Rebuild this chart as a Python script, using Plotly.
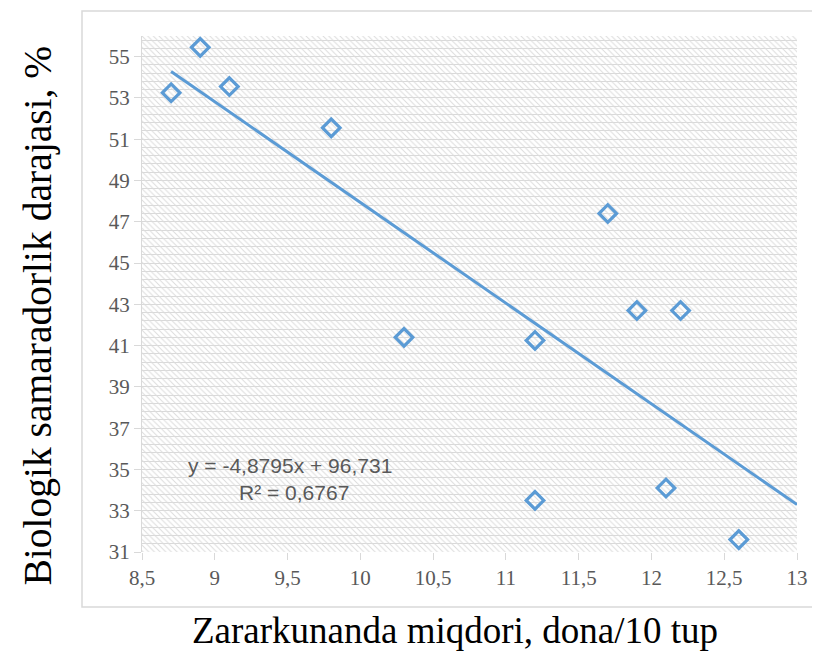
import plotly.graph_objects as go

# ---- data ----
pest_count = [8.7, 8.9, 9.1, 9.8, 10.3, 11.2, 11.2, 11.7, 11.9, 12.2, 12.1, 12.6]
bio_efficiency = [53.25, 55.45, 53.55, 51.55, 41.4, 41.25, 33.5, 47.4, 42.7, 42.7, 34.1, 31.6]
trend_slope = -4.8795
trend_intercept = 96.731
r_squared = 0.6767
x_range = [8.5, 13]
y_range = [31, 56]

eq_text = "y = -4,8795x + 96,731"
r2_text = "R² = 0,6767"
x_title = "Zararkunanda miqdori, dona/10 tup"
y_title = "Biologik samaradorlik darajasi, %"

blue = "#5b9bd5"
grey_txt = "#595959"
grid_col = "#d9d9d9"
serif = "Liberation Serif, Times New Roman, serif"

fig = go.Figure()

# patterned plot-area background (decoration spanning the axis ranges)
fig.add_trace(go.Scatter(
    x=[x_range[0], x_range[1], x_range[1], x_range[0], x_range[0]],
    y=[y_range[0], y_range[0], y_range[1], y_range[1], y_range[0]],
    mode="none", fill="toself", fillcolor="rgba(0,0,0,0)",
    fillpattern=dict(shape="\\", fgcolor="#dcdcdc", bgcolor="rgba(0,0,0,0)",
                     size=4, solidity=0.25, fillmode="replace"),
    hoverinfo="skip", showlegend=False))

# trendline from min x forward to axis max
tx = [min(pest_count), x_range[1]]
ty = [trend_slope * v + trend_intercept for v in tx]
fig.add_trace(go.Scatter(x=tx, y=ty, mode="lines",
                         line=dict(color=blue, width=3),
                         hoverinfo="skip", showlegend=False))

fig.add_trace(go.Scatter(x=pest_count, y=bio_efficiency, mode="markers",
                         marker=dict(symbol="diamond-open", size=13.5,
                                     color=blue, line=dict(color=blue, width=3.2)),
                         showlegend=False))

tick_font = dict(family=serif, size=21, color=grey_txt)

fig.update_layout(
    xaxis=dict(range=x_range, tick0=8.5, dtick=0.5, showgrid=False,
               zeroline=False, showline=False, ticks="outside", ticklen=7,
               tickcolor=grid_col, tickfont=tick_font, automargin=False),
    yaxis=dict(range=y_range, tick0=31, dtick=2, showgrid=True,
               gridcolor=grid_col, gridwidth=1.25,
               minor=dict(dtick=0.4, tick0=31, showgrid=True,
                          gridcolor=grid_col, gridwidth=1.25),
               zeroline=False, showline=True, linecolor=grid_col,
               ticks="outside", ticklen=7, tickcolor=grid_col,
               tickfont=tick_font, automargin=False),
)

fig.add_annotation(x=9.52, y=35.17, xref="x", yref="y", text=eq_text,
                   showarrow=False, font=dict(family="Liberation Sans", size=21, color=grey_txt))
fig.add_annotation(x=9.545, y=33.86, xref="x", yref="y", text=r2_text,
                   showarrow=False, font=dict(family="Liberation Sans", size=21, color=grey_txt))

fig.add_annotation(x=0.478, y=-0.152, xref="paper", yref="paper", text=x_title,
                   showarrow=False, xanchor="center", yanchor="middle",
                   font=dict(family=serif, size=37, color="#000000"))
fig.add_annotation(x=-0.159, y=0.458, xref="paper", yref="paper", text=y_title,
                   showarrow=False, textangle=-90, xanchor="center", yanchor="middle",
                   font=dict(family=serif, size=39.5, color="#000000"))

# outer chart frame
fig.add_shape(type="rect", xref="paper", yref="paper",
              x0=-0.0916, x1=1.06, y0=-0.1066, y1=1.0484,
              line=dict(color=grid_col, width=1.5), fillcolor="rgba(0,0,0,0)", layer="below")

# page has an 8px body margin, so the figure is drawn at 812x644
fig.update_layout(width=812, height=644, separators=", ",
                  font=dict(family=serif),
                  margin=dict(l=134, r=23, t=28, b=100),
                  plot_bgcolor="white", paper_bgcolor="white")

fig.write_html("out.html")
